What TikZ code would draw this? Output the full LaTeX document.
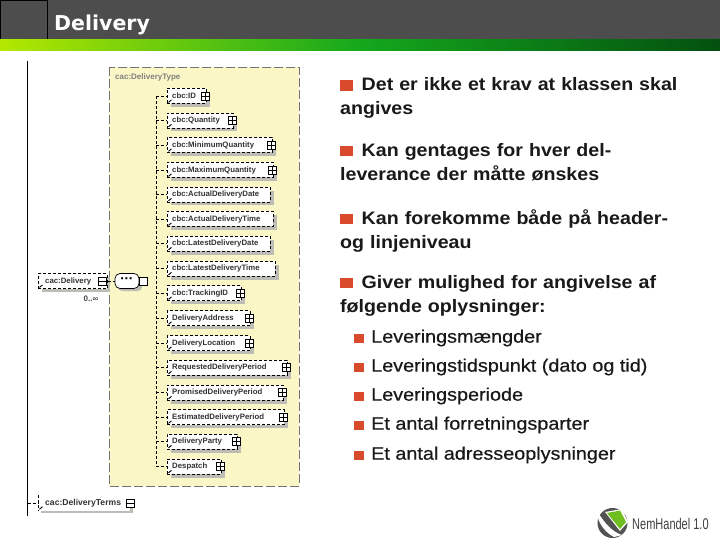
\documentclass[tikz,border=0pt]{standalone}
\usepackage{fontspec}
\setmainfont{Liberation Sans}
\newfontfamily\dejavu{DejaVu Sans}
\newfontfamily\medsans[FakeBold=0.5,FakeStretch=1.1]{Liberation Sans}
\newfontfamily\boldsans[BoldFont={Liberation Sans Bold},FakeStretch=1.09]{Liberation Sans Bold}
\newfontfamily\logosans[FakeStretch=0.71]{Liberation Sans}
\usetikzlibrary{calc}
\definecolor{headgray}{HTML}{4D4D4D}
\definecolor{barleft}{HTML}{B4E800}
\definecolor{barmid}{HTML}{14A81C}
\definecolor{barright}{HTML}{03500F}
\definecolor{schemayellow}{HTML}{FBF6C6}
\definecolor{shadowgray}{HTML}{BDBDB5}
\definecolor{bulletred}{HTML}{D9492B}
\definecolor{logogreen}{HTML}{6DBE1E}
\tikzset{
  elbox/.style={anchor=west,inner sep=0pt,minimum height=15pt,draw=black,densely dashed,line width=0.7pt,fill=white,text=black!75},
  eltext/.style={anchor=west,inner sep=0pt,font=\fontsize{7.8}{9}\selectfont\bfseries,text=black!80},
  wire/.style={densely dashed,line width=0.7pt,black},
  expander/.style={draw=black,line width=0.7pt,fill=white,minimum size=8pt,inner sep=0pt,anchor=center,solid},
  mainbullet/.style={anchor=north west,inner sep=0pt,text width=370pt,align=left,font=\fontsize{18}{24}\selectfont\boldsans\color{black!90}},
  subbullet/.style={anchor=west,inner sep=0pt,font=\fontsize{18}{20}\selectfont\medsans\color{black!90}},
}
\newcommand{\sqb}{\textcolor{bulletred}{\rule{13pt}{10.5pt}}\hspace{8.5pt}}
\newcommand{\sqs}{\textcolor{bulletred}{\rule{10pt}{9pt}}\hspace{7pt}}
\begin{document}
\begin{tikzpicture}[x=1pt,y=-1pt]
\useasboundingbox (0,0) rectangle (720,540);
\fill[white] (0,0) rectangle (720,540);
% header
\fill[headgray] (0,0) rectangle (720,40);
\draw[black,line width=0.8pt] (0.5,0.5) rectangle (47.5,39.5);
\shade[left color=barleft,right color=barmid] (0,40) rectangle (360,51);
\shade[left color=barmid,right color=barright] (360,40) rectangle (720,51);
\node[anchor=base west,inner sep=0pt,text=white,font=\fontsize{20.5}{24}\selectfont\dejavu\bfseries] (title) at (54,31) {Delivery};
% schema panel
\draw[fill=schemayellow,draw=black!55,dash pattern=on 9pt off 3pt,line width=0.8pt] (109,67) rectangle (299,486);
\node[anchor=west,inner sep=0pt,font=\fontsize{8}{9}\selectfont\bfseries,text=black!50] (ptitle) at (115,77.5) {cac:DeliveryType};
\coordinate (trunktop) at (27.5,61);
\coordinate (trunkbot) at (27.5,516);
\draw[black,line width=0.9pt] (trunktop) -- (trunkbot);
\coordinate (spinetop) at (156,96);
\coordinate (spinebot) at (156,466.5);
\draw[wire] (spinetop) -- (spinebot);
% elements: id / y / right edge / label / symbol
\foreach \nm/\yy/\rr/\lab/\sym in {
 a/96/206/cbc:ID/1,
 b/120.5/233/cbc:Quantity/1,
 c/145/272/cbc:MinimumQuantity/1,
 d/170/273/cbc:MaximumQuantity/1,
 e/194.5/270/cbc:ActualDeliveryDate/0,
 f/219/273/cbc:ActualDeliveryTime/0,
 g/243.5/270/cbc:LatestDeliveryDate/0,
 h/268.5/275/cbc:LatestDeliveryTime/0,
 i/293/241/cbc:TrackingID/1,
 j/318/250/DeliveryAddress/1,
 k/343/250/DeliveryLocation/1,
 l/367.5/287/RequestedDeliveryPeriod/1,
 m/392.5/283/PromisedDeliveryPeriod/1,
 n/417/284/EstimatedDeliveryPeriod/1,
 o/441.5/237/DeliveryParty/1,
 p/466.5/221/Despatch/1}{
  \fill[shadowgray] (171,\yy-3.5) rectangle (\rr+3.5,\yy+11);
  \pgfmathsetmacro{\boxw}{\rr-167}
  \node[elbox,minimum width=\boxw pt] (\nm) at (167,\yy) {};
  \node[eltext] (\nm t) at (172,\yy) {\lab};
  \draw[black,line width=0.9pt] ($(\nm.south west)+(1.5,-1.5)$) -- ++(3,-2.5);
  \draw[wire] (\nm.west -| spinetop) -- (\nm.west);
  \ifnum\sym=1
    \node[expander] (\nm x) at ($(\nm.east)+(-1,0)$) {};
    \draw[black,line width=0.7pt] (\nm x.west) -- (\nm x.east) (\nm x.north) -- (\nm x.south);
  \fi
}
% cac:Delivery
\coordinate (delshadow) at (42,277);
\fill[shadowgray] (delshadow) rectangle (110,292);
\node[elbox,minimum width=69pt] (delivery) at (38,281) {};
\node[eltext] (deltext) at (45,281) {cac:Delivery};
\draw[black,line width=0.9pt] ($(delivery.south west)+(1.5,-1.5)$) -- ++(3,-2.5);
\node[expander] (delx) at (102,281) {};
\draw[black,line width=0.7pt] (delx.west) -- (delx.east);
\node[anchor=center,inner sep=0pt,font=\fontsize{8}{9}\selectfont\bfseries,text=black!70] (delmult) at (91,299) {0..∞};
% sequence compositor
\fill[shadowgray,rounded corners=4pt] (118,277) rectangle (142,291);
\node[draw=black,line width=0.7pt,fill=white,rounded corners=5pt,minimum width=24pt,minimum height=15pt,inner sep=0pt] (seq) at (127,281) {};
\node[inner sep=0pt,font=\fontsize{11}{11}\selectfont\dejavu\bfseries] (seqdots) at (126.5,280) {···};
\node[expander] (seqx) at (143.5,281) {};
\draw[wire] (delivery.east) -- (seq.west);
% cac:DeliveryTerms
\fill[shadowgray] (41,507) rectangle (133,513);
\node[anchor=west,inner sep=0pt,minimum width=92pt,minimum height=15pt,fill=white] (terms) at (38,503) {};
\node[anchor=west,inner sep=0pt,font=\fontsize{8.6}{9}\selectfont\bfseries,text=black!80] (termst) at (45,503.5) {cac:DeliveryTerms};
\draw[black,densely dashed,line width=0.7pt] (terms.north west) -- (terms.south west);
\draw[black,line width=0.9pt] ($(terms.south west)+(1.5,-1.5)$) -- ++(3,-2.5);
\draw[wire] (terms.west -| trunktop) -- (terms.west);
\node[expander] (termsx) at (130,503.5) {};
\draw[black,line width=0.7pt] (termsx.west) -- (termsx.east);
% right text
\node[mainbullet] (t1) at (340,77.5) {\sqb Det er ikke et krav at klassen skal\\angives};
\node[mainbullet] (t2) at (340,143) {\sqb Kan gentages for hver del-\\leverance der måtte ønskes};
\node[mainbullet] (t3) at (340,209) {\sqb Kan forekomme både på header-\\og linjeniveau};
\node[mainbullet] (t4) at (340,275) {\sqb Giver mulighed for angivelse af\\følgende oplysninger:};
\node[subbullet] (s1) at (354,338) {\sqs Leveringsmængder};
\node[subbullet] (s2) at (354,367) {\sqs Leveringstidspunkt (dato og tid)};
\node[subbullet] (s3) at (354,396) {\sqs Leveringsperiode};
\node[subbullet] (s4) at (354,425) {\sqs Et antal forretningsparter};
\node[subbullet] (s5) at (354,455) {\sqs Et antal adresseoplysninger};
% logo
\fill[black!68] (612.5,523) circle (15);
\fill[white] (599,514) .. controls (604,522) and (612,532) .. (622,535) -- (614,537) .. controls (606,533) and (600,525) .. (598,518) -- cycle;
\fill[white] (605,512) -- (622,509) -- (628,522) -- (620,531) -- cycle;
\fill[logogreen] (607,513) -- (620,510.5) -- (626,522) -- (620,529) -- cycle;
\node[anchor=base west,inner sep=0pt,font=\fontsize{15.5}{16}\selectfont\logosans,text=black!75] (logotext) at (632,529) {NemHandel 1.0};
\end{tikzpicture}
\end{document}
